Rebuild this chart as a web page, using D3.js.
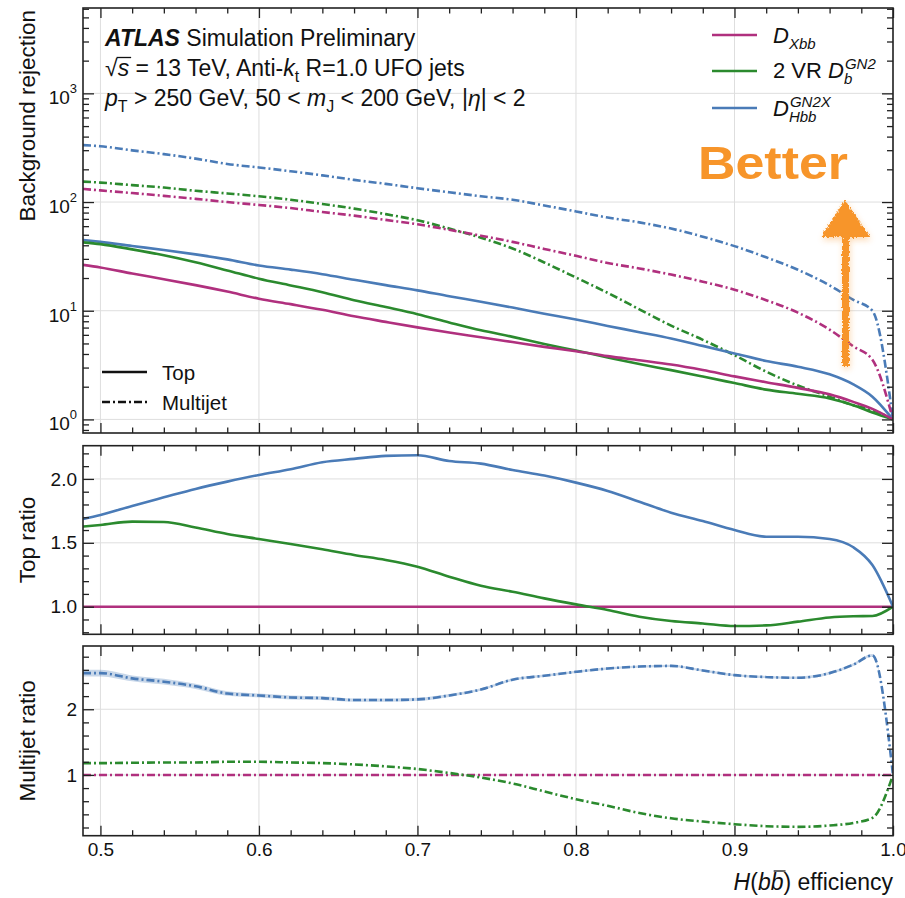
<!DOCTYPE html>
<html>
<head>
<meta charset="utf-8">
<script src="https://cdn.jsdelivr.net/npm/d3@7"></script>
<style>
  body { margin: 0; background: #fff; }
  svg { display: block; }
  text { font-family: "Liberation Sans", Arial, Helvetica, sans-serif; fill: #111; }
</style>
</head>
<body>
<svg id="chart" width="905" height="898"></svg>
<script>
// H(bb) signal efficiency working points
const eff = [0.489, 0.5, 0.52, 0.54, 0.56, 0.58, 0.6, 0.62, 0.64, 0.66, 0.68, 0.7,
             0.72, 0.74, 0.76, 0.78, 0.8, 0.82, 0.84, 0.86, 0.88, 0.9, 0.92, 0.94,
             0.96, 0.975, 0.987, 1.0];

// Top-jet background rejection
const topXbb   = [26.4, 25.0, 22.0, 19.5, 17.2, 15.0, 12.9, 11.5, 10.2, 8.9, 7.9, 7.03,
                  6.3, 5.7, 5.15, 4.65, 4.24, 3.82, 3.5, 3.2, 2.85, 2.49, 2.2, 1.95,
                  1.7, 1.45, 1.25, 1.0];
const topGN2   = [42.6, 41.0, 36.7, 32.4, 27.9, 23.5, 19.7, 17.1, 14.8, 12.5, 10.8, 9.3,
                  7.8, 6.6, 5.75, 4.95, 4.3, 3.72, 3.23, 2.84, 2.48, 2.16, 1.88, 1.72,
                  1.56, 1.35, 1.16, 1.0];
const topGN2X  = [44.8, 43.0, 39.4, 36.2, 33.0, 29.7, 26.1, 23.9, 21.7, 19.3, 17.2, 15.4,
                  13.6, 12.1, 10.7, 9.4, 8.3, 7.25, 6.35, 5.55, 4.75, 4.05, 3.45, 3.05,
                  2.6, 2.1, 1.62, 1.0];

// Multijet background rejection
const mjXbb    = [132, 128, 121, 114, 107, 100, 94, 88, 81, 75, 68.5, 62.4,
                  55.5, 49, 43, 37, 32, 27.5, 24.5, 21.5, 18.5, 15.6, 12.5, 9.6,
                  6.7, 4.7, 3.54, 1.0];
const mjGN2    = [154, 151, 143, 136, 127, 120, 113, 105, 96, 87, 77.4, 68,
                  57, 47, 37.4, 27.8, 20.2, 14.6, 10.3, 7.3, 5.4, 3.9, 2.75, 2.05,
                  1.62, 1.35, 1.22, 1.0];
const mjGN2X   = [334, 326, 299, 276, 251, 224, 208, 192, 176, 160, 147, 134,
                  123, 113, 105, 93, 82, 72, 65, 57, 48, 39.3, 31, 23.8,
                  17.1, 12.6, 10.0, 1.0];

// Ratios to D_Xbb
const topRatioXbb  = eff.map(() => 1.0);
const topRatioGN2  = [1.627, 1.64, 1.666, 1.663, 1.62, 1.569, 1.53, 1.491, 1.449, 1.405, 1.366, 1.313,
                      1.235, 1.164, 1.117, 1.065, 1.018, 0.974, 0.922, 0.888, 0.869, 0.849, 0.854, 0.883,
                      0.916, 0.925, 0.927, 1.0];
const topRatioGN2X = [1.687, 1.718, 1.789, 1.856, 1.922, 1.979, 2.031, 2.076, 2.131, 2.157, 2.18, 2.185,
                      2.14, 2.12, 2.07, 2.026, 1.971, 1.906, 1.822, 1.736, 1.671, 1.60, 1.548, 1.548,
                      1.53, 1.465, 1.326, 1.0];
const mjRatioXbb   = eff.map(() => 1.0);
const mjRatioGN2   = [1.18, 1.18, 1.185, 1.19, 1.19, 1.2, 1.2, 1.19, 1.18, 1.16, 1.13, 1.09,
                      1.03, 0.96, 0.87, 0.75, 0.63, 0.53, 0.42, 0.34, 0.29, 0.25, 0.22, 0.21,
                      0.23, 0.27, 0.345, 1.0];
const mjRatioGN2X  = [2.55, 2.55, 2.47, 2.42, 2.35, 2.24, 2.21, 2.18, 2.17, 2.14, 2.14, 2.15,
                      2.21, 2.30, 2.45, 2.51, 2.57, 2.62, 2.65, 2.66, 2.59, 2.52, 2.49, 2.48,
                      2.55, 2.68, 2.82, 1.0];
const mjRatioGN2XErr = [0.05, 0.05, 0.045, 0.045, 0.04, 0.035, 0.03, 0.03, 0.028, 0.025, 0.025, 0.025,
                        0.022, 0.02, 0.02, 0.02, 0.018, 0.018, 0.018, 0.018, 0.018, 0.018, 0.018, 0.02,
                        0.02, 0.02, 0.02, 0.0];

// Tick labels
const xTickValues = [0.5, 0.6, 0.7, 0.8, 0.9, 1.0];
const xTickLabels = ["0.5", "0.6", "0.7", "0.8", "0.9", "1.0"];
const topTickValues = [1, 10, 100, 1000];
const topTickExps = ["0", "1", "2", "3"];
const midTickValues = [1.0, 1.5, 2.0];
const midTickLabels = ["1.0", "1.5", "2.0"];
const botTickValues = [1, 2];
const botTickLabels = ["1", "2"];

const colXbb = "#b0307e", colGN2 = "#2b8a2e", colGN2X = "#4a7bb7";
const mjDash = "8,3,2,3";

const svg = d3.select("#chart");
const X0 = 83, X1 = 893;
const x = d3.scaleLinear().domain([0.489, 1.0]).range([X0, X1]);

const panels = {
  top: { y0: 8,     y1: 433,   scale: d3.scaleLog().domain([0.75, 6100]) },
  mid: { y0: 445.7, y1: 634.3, scale: d3.scaleLinear().domain([0.784, 2.26]) },
  bot: { y0: 646,   y1: 835.7, scale: d3.scaleLinear().domain([0.075, 2.963]) }
};
Object.values(panels).forEach(p => p.scale.range([p.y1, p.y0]));

const defs = svg.append("defs");
Object.entries(panels).forEach(([k, p]) => {
  defs.append("clipPath").attr("id", "clip-" + k)
    .append("rect").attr("x", X0).attr("y", p.y0).attr("width", X1 - X0).attr("height", p.y1 - p.y0);
});

const xMinor = d3.range(0.5, 1.0001, 0.02).filter(v => !xTickValues.some(m => Math.abs(m - v) < 1e-6));
const topMinor = [];
[-1, 0, 1, 2, 3].forEach(k => { for (let m = 2; m <= 9; m++) { const v = m * Math.pow(10, k); if (v >= 0.75 && v <= 6100) topMinor.push(v); } });
const midMinor = d3.range(0.8, 2.2501, 0.1).filter(v => !midTickValues.some(m => Math.abs(m - v) < 1e-6));
const botMinor = d3.range(0.2, 2.9001, 0.2).filter(v => !botTickValues.some(m => Math.abs(m - v) < 1e-6));

function drawGrid(p, yMajor) {
  const g = svg.append("g").attr("stroke", "#dedede").attr("stroke-width", 1);
  xTickValues.forEach(v => g.append("line").attr("x1", x(v)).attr("x2", x(v)).attr("y1", p.y0).attr("y2", p.y1));
  yMajor.forEach(v => g.append("line").attr("x1", X0).attr("x2", X1).attr("y1", p.scale(v)).attr("y2", p.scale(v)));
}

function styleAxis(g) {
  g.select(".domain").remove();
  g.selectAll(".tick line").attr("stroke", "#222").attr("stroke-width", 1.3);
  g.selectAll(".tick text").attr("font-size", 19).attr("fill", "#111")
    .attr("font-family", '"Liberation Sans", Arial, sans-serif');
}

function drawAxes(p, yMajor, yMinor, yFormat, xLabels) {
  const ax = (gen, tx, ty) => svg.append("g").attr("transform", `translate(${tx},${ty})`).call(gen).call(styleAxis);
  ax(d3.axisBottom(x).tickValues(xTickValues).tickSize(-10).tickPadding(7)
      .tickFormat(xLabels ? (d, i) => xTickLabels[i] : ""), 0, p.y1);
  ax(d3.axisBottom(x).tickValues(xMinor).tickSize(-5.5).tickFormat(""), 0, p.y1);
  ax(d3.axisTop(x).tickValues(xTickValues).tickSize(-10).tickFormat(""), 0, p.y0);
  ax(d3.axisTop(x).tickValues(xMinor).tickSize(-5.5).tickFormat(""), 0, p.y0);
  const left = ax(d3.axisLeft(p.scale).tickValues(yMajor).tickSize(-11).tickPadding(6).tickFormat(yFormat), X0, 0);
  ax(d3.axisLeft(p.scale).tickValues(yMinor).tickSize(-6).tickFormat(""), X0, 0);
  ax(d3.axisRight(p.scale).tickValues(yMajor).tickSize(-11).tickFormat(""), X1, 0);
  ax(d3.axisRight(p.scale).tickValues(yMinor).tickSize(-6).tickFormat(""), X1, 0);
  svg.append("rect").attr("x", X0).attr("y", p.y0).attr("width", X1 - X0).attr("height", p.y1 - p.y0)
    .attr("fill", "none").attr("stroke", "#222").attr("stroke-width", 1.6);
  return left;
}

function curve(key, p, vals, color, dash) {
  const line = d3.line().x(d => x(d[0])).y(d => p.scale(d[1])).curve(d3.curveMonotoneX);
  svg.append("path").attr("clip-path", `url(#clip-${key})`)
    .datum(eff.map((e, i) => [e, vals[i]]))
    .attr("d", line).attr("fill", "none").attr("stroke", color).attr("stroke-width", 2.6)
    .attr("stroke-linejoin", "round")
    .attr("stroke-dasharray", dash || null);
}

// ---- Grids
drawGrid(panels.top, topTickValues);
drawGrid(panels.mid, midTickValues);
drawGrid(panels.bot, botTickValues);

// ---- Upper panel: rejection curves
curve("top", panels.top, mjGN2X, colGN2X, mjDash);
curve("top", panels.top, mjGN2, colGN2, mjDash);
curve("top", panels.top, mjXbb, colXbb, mjDash);
curve("top", panels.top, topGN2X, colGN2X);
curve("top", panels.top, topGN2, colGN2);
curve("top", panels.top, topXbb, colXbb);

// ---- Top ratio panel
curve("mid", panels.mid, topRatioXbb, colXbb);
curve("mid", panels.mid, topRatioGN2, colGN2);
curve("mid", panels.mid, topRatioGN2X, colGN2X);

// ---- Multijet ratio panel
const band = d3.area().x((d, i) => x(eff[i]))
  .y0((d, i) => panels.bot.scale(mjRatioGN2X[i] - d))
  .y1((d, i) => panels.bot.scale(mjRatioGN2X[i] + d))
  .curve(d3.curveMonotoneX);
svg.append("path").attr("clip-path", "url(#clip-bot)").datum(mjRatioGN2XErr)
  .attr("d", band).attr("fill", colGN2X).attr("fill-opacity", 0.3);
curve("bot", panels.bot, mjRatioXbb, colXbb, mjDash);
curve("bot", panels.bot, mjRatioGN2, colGN2, mjDash);
curve("bot", panels.bot, mjRatioGN2X, colGN2X, mjDash);

// ---- Axes and frames
const topLeft = drawAxes(panels.top, topTickValues, topMinor, d => "10", false);
topLeft.selectAll(".tick text").each(function (d, i) {
  const t = d3.select(this);
  t.attr("dy", "0.55em");
  t.append("tspan").attr("dy", -11).attr("font-size", 13).text(topTickExps[i]);
});
drawAxes(panels.mid, midTickValues, midMinor, (d, i) => midTickLabels[i], false);
drawAxes(panels.bot, botTickValues, botMinor, (d, i) => botTickLabels[i], true);

// ---- Rich text helper (italic, sub/superscripts, stacked scripts)
function rich(parent, px, py, fs, parts, anchor) {
  const t = parent.append("text").attr("x", px).attr("y", py).attr("font-size", fs);
  if (anchor) t.attr("text-anchor", anchor);
  let cur = 0, prev = null;
  parts.forEach(p => {
    const size = (p.sub || p.sup) ? Math.round(fs * 0.7) : fs;
    const shift = p.sub ? fs * 0.28 : p.sup ? -fs * 0.42 : 0;
    const ts = t.append("tspan").attr("font-size", size).text(p.t);
    if (p.stack && prev) {
      const r = prev.node().getExtentOfChar(0);
      ts.attr("x", r.x + (p.kern || 0));
    }
    if (Math.abs(shift - cur) > 1e-6) ts.attr("dy", shift - cur);
    cur = shift;
    if (p.it) ts.attr("font-style", "italic");
    if (p.b) ts.attr("font-weight", "bold");
    p.node = ts;
    prev = ts;
  });
  return t;
}

function overbar(tspan, yOff, pad, slant) {
  const r = tspan.node().getExtentOfChar(0);
  svg.append("line").attr("x1", r.x + pad + slant).attr("x2", r.x + r.width + slant)
    .attr("y1", yOff).attr("y2", yOff).attr("stroke", "#111").attr("stroke-width", 1.3);
}

// ---- Annotation block
const ann = svg.append("g");
rich(ann, 105, 46, 23, [{ t: "ATLAS", it: true, b: true }, { t: " Simulation Preliminary" }]);
const l2parts = [{ t: "\u221A" }, { t: "s", it: true }, { t: " = 13 TeV, Anti-" }, { t: "k", it: true },
  { t: "t", sub: true }, { t: " R=1.0 UFO jets" }];
rich(ann, 105, 76, 23, l2parts);
{
  const r0 = l2parts[0].node.node().getExtentOfChar(0);
  const r1 = l2parts[1].node.node().getExtentOfChar(0);
  svg.append("line").attr("x1", r0.x + r0.width - 1).attr("x2", r1.x + r1.width + 2)
    .attr("y1", r0.y + 2.5).attr("y2", r0.y + 2.5).attr("stroke", "#111").attr("stroke-width", 1.3);
}
rich(ann, 105, 106, 23, [{ t: "p", it: true }, { t: "T", sub: true }, { t: " > 250 GeV, 50 < " },
  { t: "m", it: true }, { t: "J", sub: true }, { t: " < 200 GeV, |" }, { t: "\u03B7", it: true }, { t: "| < 2" }]);

// ---- Tagger legend
const leg = svg.append("g");
[[colXbb, 35], [colGN2, 71], [colGN2X, 108]].forEach(([c, yy]) =>
  leg.append("line").attr("x1", 712).attr("x2", 757).attr("y1", yy).attr("y2", yy)
    .attr("stroke", c).attr("stroke-width", 2.6));
rich(leg, 773, 43, 22, [{ t: "D", it: true }, { t: "Xbb", it: true, sub: true }]);
rich(leg, 773, 78, 22, [{ t: "2 VR " }, { t: "D", it: true }, { t: "b", it: true, sub: true },
  { t: "GN2", it: true, sup: true, stack: true, kern: 1 }]);
rich(leg, 773, 116, 22, [{ t: "D", it: true }, { t: "Hbb", it: true, sub: true },
  { t: "GN2X", it: true, sup: true, stack: true, kern: 1 }]);

// ---- Background style legend
const leg2 = svg.append("g");
leg2.append("line").attr("x1", 102).attr("x2", 147).attr("y1", 372).attr("y2", 372)
  .attr("stroke", "#111").attr("stroke-width", 2.6);
leg2.append("line").attr("x1", 102).attr("x2", 147).attr("y1", 402).attr("y2", 402)
  .attr("stroke", "#111").attr("stroke-width", 2.6).attr("stroke-dasharray", mjDash);
leg2.append("text").attr("x", 162).attr("y", 380).attr("font-size", 20.5).text("Top");
leg2.append("text").attr("x", 162).attr("y", 410).attr("font-size", 20.5).text("Multijet");

// ---- Axis titles
svg.append("text").attr("transform", "translate(35,10) rotate(-90)").attr("text-anchor", "end")
  .attr("font-size", 22.5).text("Background rejection");
svg.append("text").attr("transform", `translate(35,${(panels.mid.y0 + panels.mid.y1) / 2}) rotate(-90)`)
  .attr("text-anchor", "middle").attr("font-size", 22.5).text("Top ratio");
svg.append("text").attr("transform", `translate(35,${(panels.bot.y0 + panels.bot.y1) / 2}) rotate(-90)`)
  .attr("text-anchor", "middle").attr("font-size", 22.5).text("Multijet ratio");
const xl = [{ t: "H", it: true }, { t: "(" }, { t: "b", it: true }, { t: "b", it: true }, { t: ") efficiency" }];
rich(svg, 893, 890, 23, xl, "end");
overbar(xl[3].node, 890 - 19, 1, 2);

// ---- "Better" marker
const orange = "#f7952a";
defs.append("filter").attr("id", "rough").attr("x", "-20%").attr("y", "-20%").attr("width", "140%").attr("height", "140%")
  .call(f => {
    f.append("feTurbulence").attr("type", "fractalNoise").attr("baseFrequency", 0.55).attr("numOctaves", 2).attr("seed", 3).attr("result", "n");
    f.append("feDisplacementMap").attr("in", "SourceGraphic").attr("in2", "n").attr("scale", 5)
      .attr("xChannelSelector", "R").attr("yChannelSelector", "G");
  });
defs.append("filter").attr("id", "soft").attr("x", "-50%").attr("y", "-50%").attr("width", "200%").attr("height", "200%")
  .append("feGaussianBlur").attr("stdDeviation", 3);

const arrowShape = g => {
  g.append("rect").attr("x", 842).attr("y", 232).attr("width", 7).attr("height", 134);
  g.append("path").attr("d", "M845,200 L821,237 L870,237 Z");
};
svg.append("g").attr("fill", orange).attr("opacity", 0.35).attr("filter", "url(#soft)")
  .attr("transform", "translate(1,3)").call(arrowShape);
svg.append("g").attr("fill", orange).attr("filter", "url(#rough)").call(arrowShape);
svg.append("text").attr("x", 698).attr("y", 179).attr("font-size", 46).attr("font-weight", "bold")
  .attr("font-family", '"Open Sans", "Liberation Sans", sans-serif')
  .attr("textLength", 150).attr("lengthAdjust", "spacingAndGlyphs")
  .style("fill", orange).text("Better");
</script>
</body>
</html>
